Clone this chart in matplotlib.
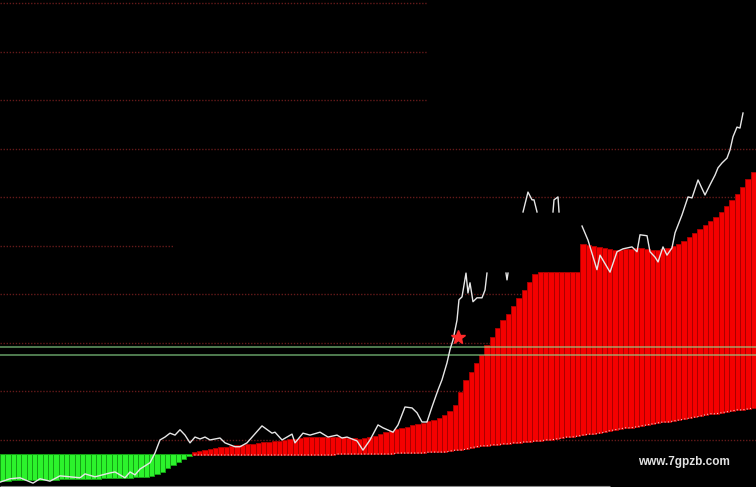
import matplotlib
matplotlib.use("Agg")
import matplotlib.pyplot as plt
import numpy as np

# %%
# green bars (index 0..35): hang from the zero line down to the lower curve
green_top = [0.71] * 36
green_bottom = [0.15, 0.15, 0.18, 0.18, 0.18, 0.18, 0.18, 0.18, 0.18, 0.18, 0.18,
                0.20, 0.20, 0.20, 0.20, 0.20, 0.20, 0.20, 0.20,
                0.22, 0.22, 0.22, 0.22, 0.22, 0.22,
                0.24, 0.24, 0.24, 0.26, 0.30, 0.34, 0.42, 0.48, 0.55, 0.61, 0.67]

# red bars (index 36..141)
red_bottom = ([0.69] * 27 + [0.71] * 11 + [0.73] * 6 + [0.75] * 4 +
              [0.77, 0.79, 0.79, 0.81, 0.84, 0.86, 0.88, 0.88, 0.90, 0.90,
               0.92, 0.92, 0.94, 0.94, 0.96, 0.96, 0.98, 0.98, 1.00, 1.00,
               1.02, 1.04, 1.06, 1.06, 1.08, 1.10, 1.12, 1.12, 1.14, 1.16,
               1.19, 1.21, 1.23, 1.25, 1.25, 1.27, 1.29, 1.31, 1.33, 1.35,
               1.37, 1.37, 1.39, 1.41, 1.43, 1.45, 1.47, 1.49, 1.52, 1.54,
               1.54, 1.56, 1.58, 1.60, 1.62, 1.62, 1.64, 1.66])
red_top = ([0.75, 0.77, 0.79, 0.81, 0.84, 0.86, 0.86, 0.88, 0.90, 0.90,
            0.92, 0.92, 0.94, 0.96, 0.96, 0.98, 0.98, 1.00, 1.02, 1.02,
            1.04, 1.06, 1.06, 1.06, 1.06, 1.06, 1.06, 1.06, 1.06, 1.04,
            1.04, 1.02, 1.04, 1.06, 1.08, 1.12, 1.16, 1.19, 1.23, 1.25,
            1.27, 1.31, 1.33, 1.35, 1.39, 1.41, 1.45, 1.52, 1.60, 1.72,
            1.99, 2.24, 2.40, 2.59, 2.75, 2.96, 3.12, 3.31, 3.47, 3.60,
            3.76, 3.93, 4.09, 4.26, 4.42] + [4.46] * 8 +
           [5.04, 5.02, 5.00, 4.98, 4.96, 4.94, 4.92, 4.92, 4.94, 4.94,
            4.96, 4.96, 4.94, 4.92, 4.92, 4.94, 4.96, 5.00, 5.04, 5.10,
            5.19, 5.27, 5.35, 5.43, 5.52, 5.60, 5.70, 5.82, 5.95, 6.07,
            6.22, 6.38, 6.53])

# price line (x in bar units, nan = gap)
nan = np.nan
price_x = [-0.5, 1.38, 3.26, 5.70, 7.01, 8.89, 10.77, 12.65, 14.53, 15.47, 17.34,
           20.16, 21.10, 22.98, 23.92, 24.86, 25.80, 27.67, 28.61, 29.55, 30.49,
           31.43, 32.37, 33.31, 34.25, 35.19, 36.13, 37.07, 38.01, 38.94, 40.82,
           41.76, 43.64, 44.58, 45.89, 48.71, 50.59, 51.15, 52.47, 54.35, 54.91,
           56.41, 57.73, 59.61, 61.11, 62.80, 63.74, 64.68, 66.56, 67.68, 69.00,
           70.50, 71.44, 73.32, 74.26, 75.57, 76.89, 77.83, 78.76, 79.70, 80.64,
           81.77, 82.52, 83.46, 84.02, 84.59, 85.34, 85.71, 86.28, 87.03, 87.40,
           87.78, 88.34, 89.09, 90.03, 90.60, 90.97, nan,
           94.54, 94.73, 94.92, nan,
           97.74, 98.67, 99.43, 99.80, 100.37, nan,
           103.37, 103.56, 104.31, 104.50, nan,
           108.82, 109.94, 111.63, 112.20, 114.08, 115.39, 116.52, 118.21, 119.15,
           119.71, 121.03, 121.59, 122.53, 123.10, 124.03, 124.78, 125.72, 126.29,
           127.60, 128.73, 129.48, 130.61, 131.92, 132.86, 133.80, 134.36, 135.11,
           136.05, 136.62, 137.18, 137.93, 138.49, 139.06]
price_y = [0.13, 0.20, 0.22, 0.11, 0.20, 0.15, 0.26, 0.24, 0.22, 0.30, 0.24,
           0.32, 0.34, 0.22, 0.34, 0.28, 0.40, 0.53, 0.73, 1.00, 1.06,
           1.14, 1.10, 1.21, 1.10, 0.94, 1.06, 1.02, 1.06, 1.00, 1.04,
           0.94, 0.86, 0.86, 0.94, 1.29, 1.14, 1.16, 1.00, 1.12, 0.94,
           1.14, 1.10, 1.16, 1.06, 1.10, 1.04, 1.06, 0.98, 0.79, 1.00,
           1.31, 1.25, 1.16, 1.31, 1.68, 1.66, 1.56, 1.37, 1.37, 1.68,
           2.03, 2.24, 2.59, 2.86, 3.06, 3.47, 3.89, 3.95, 4.44, 4.03,
           4.24, 3.85, 3.93, 3.93, 4.09, 4.44, nan,
           4.44, 4.30, 4.44, nan,
           5.70, 6.11, 5.95, 5.95, 5.70, nan,
           5.70, 5.95, 6.01, 5.70, nan,
           5.41, 5.12, 4.51, 4.81, 4.46, 4.88, 4.94, 4.98, 4.88,
           5.23, 5.21, 4.88, 4.77, 4.67, 4.98, 4.81, 4.96, 5.27,
           5.64, 6.01, 5.99, 6.36, 6.05, 6.26, 6.46, 6.61, 6.71,
           6.81, 6.98, 7.25, 7.45, 7.43, 7.74]

# dotted level lines and where they stop
grid_levels = [1, 2, 3, 4, 5, 6, 7, 8, 9, 10]
grid_ends = [141.5, 141.5, 141.5, 141.5, 32.0, 141.5, 141.5, 79.7, 79.7, 79.7]

green_lines = [2.76, 2.91]
star_x, star_y = 85.5, 3.12

# %%
fig = plt.figure(figsize=(7.56, 4.87), dpi=100, facecolor="black")
ax = fig.add_axes([0, 0, 1, 1])
ax.set_facecolor("black")

for lvl, end in zip(grid_levels, grid_ends):
    ax.hlines(lvl, -0.5, end, color="#641a1a", lw=1.0,
              linestyles=(0, (1, 1.2)), zorder=1)

gx = np.arange(len(green_top))
rx = np.arange(len(green_top), len(green_top) + len(red_top))

ax.bar(gx, np.array(green_top) - np.array(green_bottom), bottom=green_bottom,
       width=1.0, color="#2cf22c", edgecolor="#14a014", lw=0.7, zorder=2)
ax.bar(rx, np.array(red_top) - np.array(red_bottom), bottom=red_bottom,
       width=1.0, color="#f40000", edgecolor="#a80000", lw=0.7, zorder=2)

# white dotted edge along the red bar bottoms
ax.plot(rx, red_bottom, color="white", lw=0.8, ls=(0, (1, 2)), alpha=0.8, zorder=3)

for yl in green_lines:
    ax.axhline(yl, color="#8fe08f", lw=1.1, alpha=0.7, zorder=4)

ax.plot(price_x, price_y, color="#e6e6e6", lw=1.0, zorder=5)
ax.plot(star_x, star_y, marker="*", ms=10, color="#ff2a2a", mec="#ff2a2a", zorder=6)

# thin scrollbar line at the bottom
ax.hlines(0.05, -0.5, 114, color="#8a8a8a", lw=0.8, zorder=6)

ax.text(119.3, 0.55, "www.7gpzb.com", color="#e2e2e2", fontsize=8.5,
        fontweight="bold", family="Liberation Sans", va="center", ha="left", zorder=7)

ax.set_xlim(-0.5, 141.5)
ax.set_ylim(0.03, 10.07)
ax.axis("off")

fig.savefig("out.png", dpi=100, facecolor="black")
